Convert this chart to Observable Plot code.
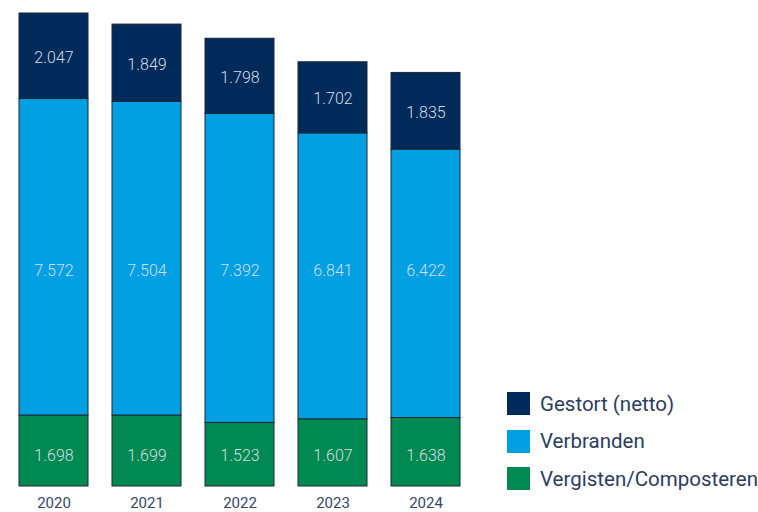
<!DOCTYPE html>
<html>
<head>
<meta charset="utf-8">
<script src="https://cdn.jsdelivr.net/npm/d3@7"></script>
<script src="https://cdn.jsdelivr.net/npm/@observablehq/plot@0.6"></script>
<style>
  html, body { margin: 0; padding: 0; background: #fff; }
  #wrap { position: relative; width: 758px; height: 512px; font-family: Roboto, "Noto Sans", sans-serif; }
  #legend { position: absolute; left: 507px; top: 392px; }
  .row { display: flex; align-items: center; height: 23px; margin-bottom: 14.7px; }
  .sw { width: 23px; height: 23px; margin-right: 10px; }
  .lab { font-size: 20.5px; color: #2b3e5e; white-space: nowrap; }
</style>
</head>
<body>
<div id="wrap"></div>
<script>
const years = ["2020", "2021", "2022", "2023", "2024"];
const seriesNames = ["Vergisten/Composteren", "Verbranden", "Gestort (netto)"];
const vergisten = [1698, 1699, 1523, 1607, 1638];
const verbranden = [7572, 7504, 7392, 6841, 6422];
const gestort = [2047, 1849, 1798, 1702, 1835];
const colors = ["#008a52", "#00a0e2", "#002a5a"];
const legendOrder = ["Gestort (netto)", "Verbranden", "Vergisten/Composteren"];

const seriesValues = [vergisten, verbranden, gestort];
const data = [];
years.forEach((y, i) => {
  let base = 0;
  seriesNames.forEach((s, j) => {
    const v = seriesValues[j][i];
    data.push({year: y, series: s, value: v, mid: base + v / 2});
    base += v;
  });
});
// label placement: bottom series at lowest common mid, middle series at mean mid, top series at own mid
const mids = s => data.filter(d => d.series === s).map(d => d.mid);
const labelY = {
  "Vergisten/Composteren": () => d3.min(mids("Vergisten/Composteren")),
  "Verbranden": () => d3.mean(mids("Verbranden")),
  "Gestort (netto)": d => d.mid
};
data.forEach(d => { d.labelY = labelY[d.series](d); });

const nl = d3.formatLocale({decimal: ",", thousands: ".", grouping: [3], currency: ["€", ""]});
const fmt = nl.format(",d");

const plot = Plot.plot({
  width: 758,
  height: 512,
  marginTop: 13,
  marginBottom: 26,
  marginLeft: 17.5,
  marginRight: 296,
  style: {fontFamily: "Roboto, 'Noto Sans', sans-serif", background: "#fff"},
  x: {domain: years, paddingInner: 0.259, paddingOuter: 0, label: null},
  y: {axis: null, label: null},
  color: {domain: seriesNames, range: colors},
  marks: [
    Plot.barY(data, Plot.stackY({
      x: "year", y: "value", z: "series", fill: "series",
      order: seriesNames,
      stroke: "#1c2838", strokeWidth: 1
    })),
    Plot.text(data, {
      x: "year", y: "labelY",
      text: d => fmt(d.value),
      dy: 1.5,
      fill: "#d3dde8", fontSize: 16, fontWeight: 300, letterSpacing: 0.2
    }),
    Plot.axisX({tickSize: 0, tickPadding: 11, fontSize: 15, color: "#34476a", letterSpacing: 0.5})
  ]
});

const wrap = document.getElementById("wrap");
wrap.appendChild(plot);

const legend = document.createElement("div");
legend.id = "legend";
legendOrder.forEach(name => {
  const row = document.createElement("div");
  row.className = "row";
  const sw = document.createElement("div");
  sw.className = "sw";
  sw.style.background = colors[seriesNames.indexOf(name)];
  const lab = document.createElement("div");
  lab.className = "lab";
  lab.textContent = name;
  row.appendChild(sw);
  row.appendChild(lab);
  legend.appendChild(row);
});
wrap.appendChild(legend);
</script>
</body>
</html>
